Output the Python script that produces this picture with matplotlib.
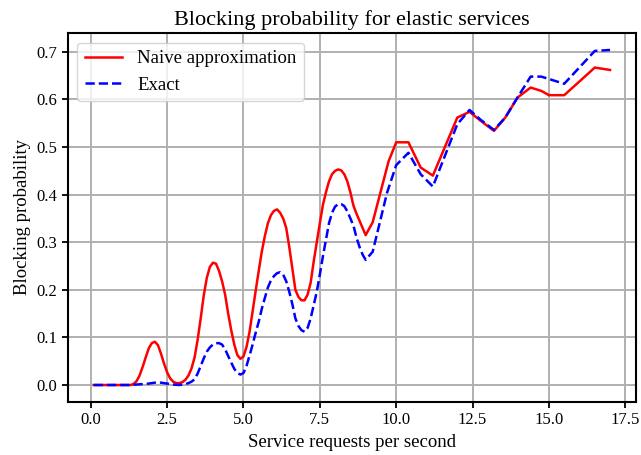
import matplotlib.pyplot as plt

plt.rcParams['font.family'] = ['Liberation Serif', 'DejaVu Serif']

# service requests per second (x) and blocking probability per series
naive_x = [0.1, 0.4, 0.7, 1.0, 1.3, 1.4, 1.5, 1.6, 1.7, 1.8, 1.9, 2.0, 2.1, 2.2, 2.3,
           2.4, 2.5, 2.6, 2.7, 2.8, 2.9, 3.0, 3.1, 3.2, 3.3, 3.4, 3.5, 3.6, 3.7,
           3.8, 3.9, 4.0, 4.1, 4.2, 4.3, 4.4, 4.5, 4.6, 4.7, 4.8, 4.9, 5.0, 5.1,
           5.2, 5.3, 5.4, 5.5, 5.6, 5.7, 5.8, 5.9, 6.0, 6.1, 6.2, 6.3, 6.4, 6.5,
           6.6, 6.7, 6.8, 6.9, 7.0, 7.1, 7.2, 7.3, 7.4, 7.5, 7.6, 7.7, 7.8, 7.9,
           8.0, 8.1, 8.2, 8.3, 8.4, 8.5, 8.6, 8.7, 8.8, 8.9, 9.0, 9.23, 9.75,
           10.0, 10.4, 10.8, 11.2, 12.0, 12.4, 12.75, 13.2, 13.57, 13.97, 14.4,
           14.75, 15.0, 15.5, 16.5, 17.0]
naive_y = [0.0, 0.0, 0.0, 0.0, 0.0, 0.002, 0.008, 0.02, 0.038, 0.058, 0.077, 0.088,
           0.091, 0.084, 0.066, 0.045, 0.027, 0.014, 0.007, 0.004, 0.004, 0.006,
           0.011, 0.02, 0.035, 0.058, 0.095, 0.14, 0.188, 0.225, 0.248, 0.257,
           0.255, 0.24, 0.218, 0.19, 0.15, 0.115, 0.085, 0.063, 0.055, 0.06, 0.08,
           0.112, 0.155, 0.198, 0.24, 0.28, 0.313, 0.34, 0.357, 0.366, 0.369,
           0.362, 0.35, 0.33, 0.29, 0.245, 0.2, 0.185, 0.178, 0.178, 0.19, 0.215,
           0.26, 0.3, 0.34, 0.378, 0.405, 0.428, 0.443, 0.45, 0.453, 0.451, 0.443,
           0.428, 0.405, 0.377, 0.36, 0.345, 0.33, 0.315, 0.342, 0.47, 0.51, 0.51,
           0.457, 0.44, 0.562, 0.574, 0.556, 0.534, 0.562, 0.604, 0.625, 0.618,
           0.609, 0.609, 0.667, 0.662]

exact_x = [0.1, 0.4, 0.7, 1.0, 1.3, 1.5, 1.7, 1.9, 2.1, 2.3, 2.5, 2.7, 2.9, 3.0, 3.1,
           3.2, 3.3, 3.4, 3.5, 3.6, 3.7, 3.8, 3.9, 4.0, 4.1, 4.2, 4.3, 4.4, 4.5,
           4.6, 4.7, 4.8, 4.9, 5.0, 5.1, 5.2, 5.3, 5.4, 5.5, 5.6, 5.7, 5.8, 5.9,
           6.0, 6.1, 6.2, 6.3, 6.4, 6.5, 6.6, 6.7, 6.8, 6.9, 7.0, 7.1, 7.2, 7.3,
           7.4, 7.5, 7.6, 7.7, 7.8, 7.9, 8.0, 8.1, 8.2, 8.3, 8.4, 8.5, 8.6, 8.7,
           8.8, 8.9, 9.0, 9.23, 9.7, 10.0, 10.4, 10.8, 11.2, 12.0, 12.4, 12.75,
           13.2, 13.57, 13.97, 14.4, 14.75, 15.5, 16.5, 17.0]
exact_y = [0.0, 0.0, 0.0, 0.0, 0.0, 0.001, 0.002, 0.003, 0.005, 0.005, 0.003, 0.001,
           0.0, 0.001, 0.002, 0.004, 0.007, 0.012, 0.024, 0.04, 0.056, 0.07, 0.079,
           0.085, 0.088, 0.088, 0.085, 0.075, 0.061, 0.047, 0.034, 0.025, 0.022,
           0.025, 0.04, 0.062, 0.085, 0.11, 0.133, 0.16, 0.183, 0.205, 0.22,
           0.229, 0.235, 0.237, 0.232, 0.218, 0.196, 0.17, 0.14, 0.124, 0.115,
           0.112, 0.12, 0.14, 0.168, 0.196, 0.232, 0.27, 0.305, 0.34, 0.362,
           0.375, 0.38, 0.38, 0.376, 0.365, 0.35, 0.335, 0.31, 0.29, 0.274, 0.263,
           0.28, 0.404, 0.462, 0.488, 0.443, 0.417, 0.548, 0.578, 0.558, 0.536,
           0.562, 0.604, 0.648, 0.648, 0.633, 0.702, 0.704]

fig = plt.figure(figsize=(6.41, 4.55), dpi=100)
ax = fig.add_axes([0.106, 0.117, 0.886, 0.81])

ax.plot(naive_x, naive_y, color='red', lw=1.8, label='Naive approximation')
ax.plot(exact_x, exact_y, color='blue', lw=1.8, ls='--', label='Exact')

ax.grid(True, color='#b0b0b0', lw=1.4)
for s in ax.spines.values():
    s.set_linewidth(1.5)
ax.tick_params(labelsize=12, width=1.3, length=4)
ax.set_xticks([0, 2.5, 5, 7.5, 10, 12.5, 15, 17.5])
ax.set_xlabel('Service requests per second', fontsize=13.5)
ax.set_ylabel('Blocking probability', fontsize=13.5)
ax.set_title('Blocking probability for elastic services', fontsize=16)
ax.legend(loc='upper left', fontsize=13.5)

fig.savefig('out.png', dpi=100)
